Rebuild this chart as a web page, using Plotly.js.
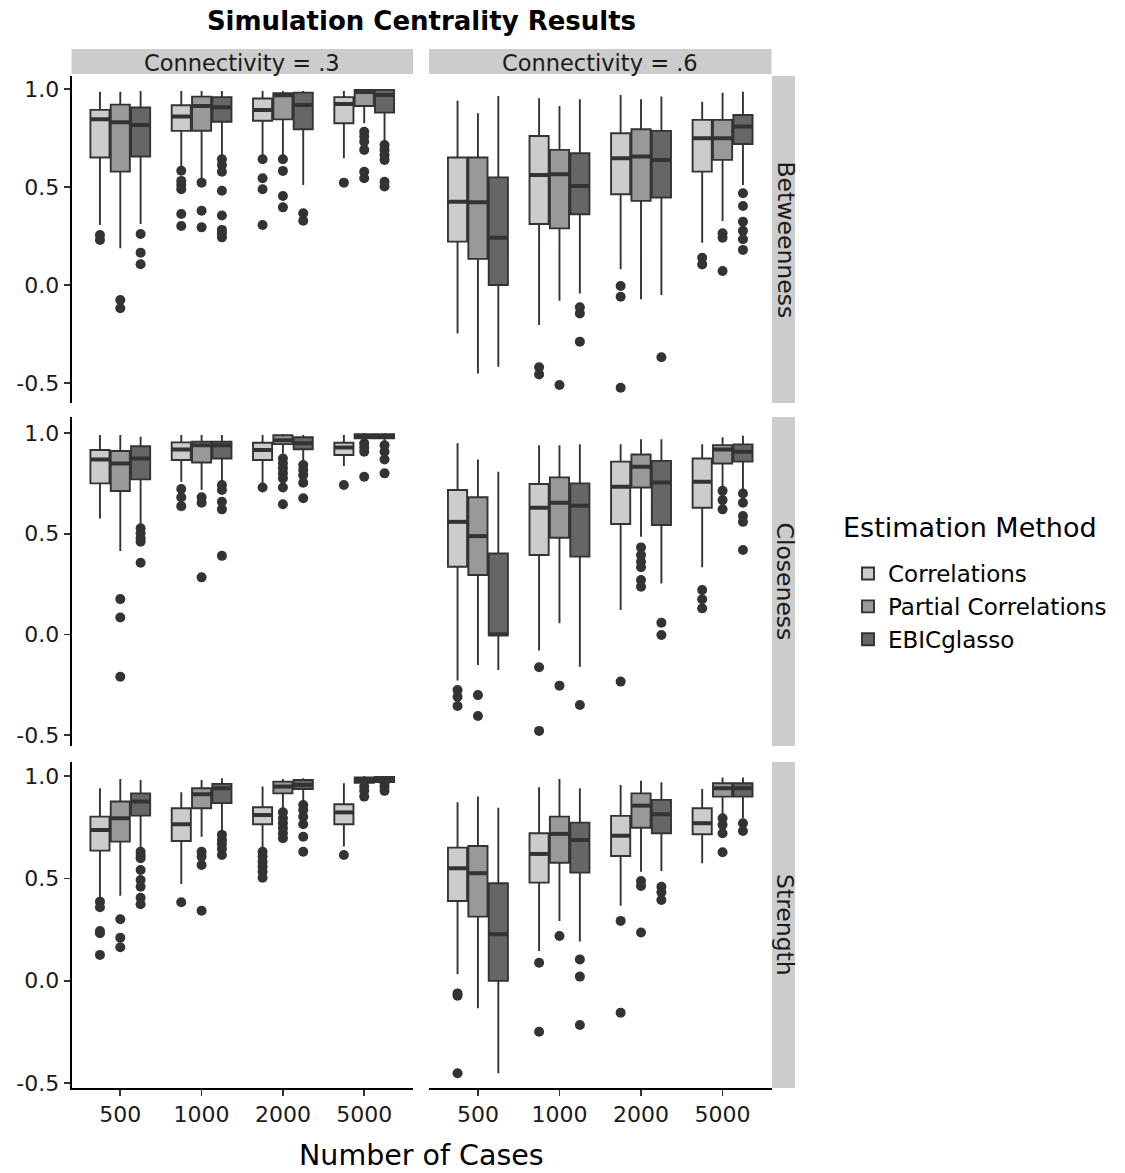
<!DOCTYPE html>
<html><head><meta charset="utf-8">
<script src="https://cdn.plot.ly/plotly-3.0.1.min.js"></script>
<style>html,body{margin:0;padding:0;background:#fff}</style>
</head><body><div id="chart" style="width:1125px;height:1173px"></div>
<script>
// ---------- DATA ----------
const nCases = ['500', '1000', '2000', '5000'];
const methods = ['Correlations', 'Partial Correlations', 'EBICglasso'];
const measures = ['Betweenness', 'Closeness', 'Strength'];
const connectivity = ['Connectivity = .3', 'Connectivity = .6'];
const yTickVals = [-0.5, 0, 0.5, 1];
const yTickText = ['-0.5', '0.0', '0.5', '1.0'];

// each stat array: rows = methods (Correlations, Partial, EBICglasso), cols = nCases
// Betweenness, connectivity .3
const betw3Upper = [[0.986, 0.99, 0.99, 0.99], [0.986, 0.99, 0.99, 1.0], [0.99, 0.99, 0.99, 1.0]];
const betw3Q3 = [[0.893, 0.917, 0.951, 0.958], [0.920, 0.961, 0.978, 0.995], [0.905, 0.958, 0.981, 0.995]];
const betw3Median = [[0.845, 0.859, 0.893, 0.923], [0.830, 0.913, 0.968, 0.985], [0.816, 0.907, 0.918, 0.969]];
const betw3Q1 = [[0.650, 0.786, 0.838, 0.825], [0.578, 0.787, 0.845, 0.913], [0.655, 0.833, 0.794, 0.879]];
const betw3Lower = [[0.306, 0.604, 0.658, 0.646], [0.187, 0.544, 0.655, 0.825], [0.311, 0.655, 0.510, 0.723]];
const betw3Outliers = [
  [[0.255, 0.230], [0.583, 0.531, 0.510, 0.488, 0.362, 0.301], [0.641, 0.544, 0.488, 0.306], [0.522]],
  [[-0.077, -0.119], [0.522, 0.379, 0.294], [0.641, 0.582, 0.454, 0.396], [0.782, 0.757, 0.731, 0.689, 0.578, 0.544]],
  [[0.260, 0.165, 0.106], [0.641, 0.612, 0.578, 0.481, 0.354, 0.281, 0.264, 0.243], [0.366, 0.328], [0.714, 0.689, 0.663, 0.638, 0.527, 0.502]]
];

// Betweenness, connectivity .6
const betw6Upper = [[0.940, 0.952, 0.969, 0.935], [0.876, 0.913, 0.947, 0.981], [0.964, 0.947, 0.961, 0.986]];
const betw6Q3 = [[0.650, 0.760, 0.774, 0.842], [0.650, 0.689, 0.794, 0.842], [0.549, 0.672, 0.786, 0.867]];
const betw6Median = [[0.425, 0.561, 0.646, 0.748], [0.422, 0.565, 0.655, 0.748], [0.241, 0.505, 0.638, 0.808]];
const betw6Q1 = [[0.221, 0.311, 0.463, 0.578], [0.133, 0.289, 0.429, 0.638], [0.0, 0.361, 0.446, 0.719]];
const betw6Lower = [[-0.247, -0.204, 0.080, 0.216], [-0.451, -0.080, -0.073, 0.327], [-0.417, -0.043, -0.051, 0.510]];
const betw6Outliers = [
  [[], [-0.420, -0.456], [-0.005, -0.060, -0.524], [0.139, 0.105]],
  [[], [-0.510], [], [0.264, 0.241, 0.071]],
  [[], [-0.114, -0.145, -0.289], [-0.369], [0.468, 0.403, 0.323, 0.276, 0.233, 0.179]]
];

// Closeness, connectivity .3
const clos3Upper = [[0.990, 0.990, 0.990, 0.990], [0.990, 0.990, 0.995, 1.0], [0.982, 0.990, 0.990, 1.0]];
const clos3Q3 = [[0.916, 0.954, 0.952, 0.952], [0.911, 0.957, 0.989, 0.995], [0.935, 0.957, 0.979, 0.995]];
const clos3Median = [[0.869, 0.919, 0.916, 0.929], [0.849, 0.940, 0.965, 0.985], [0.874, 0.940, 0.949, 0.985]];
const clos3Q1 = [[0.750, 0.866, 0.866, 0.891], [0.712, 0.854, 0.945, 0.974], [0.770, 0.874, 0.920, 0.974]];
const clos3Lower = [[0.576, 0.758, 0.750, 0.836], [0.414, 0.717, 0.899, 0.957], [0.543, 0.750, 0.866, 0.957]];
const clos3Outliers = [
  [[], [0.722, 0.681, 0.637], [0.730], [0.742]],
  [[0.175, 0.084, -0.211], [0.681, 0.654, 0.283], [0.874, 0.849, 0.825, 0.800, 0.775, 0.730, 0.646], [0.949, 0.929, 0.907, 0.783]],
  [[0.527, 0.502, 0.477, 0.460, 0.356], [0.742, 0.717, 0.659, 0.621, 0.390], [0.841, 0.816, 0.791, 0.753, 0.676], [0.940, 0.907, 0.869, 0.800]]
];

// Closeness, connectivity .6
const clos6Upper = [[0.949, 0.940, 0.945, 0.945], [0.869, 0.940, 0.970, 0.979], [0.808, 0.945, 0.970, 0.987]];
const clos6Q3 = [[0.717, 0.747, 0.858, 0.874], [0.681, 0.780, 0.894, 0.940], [0.402, 0.750, 0.862, 0.944]];
const clos6Median = [[0.559, 0.629, 0.733, 0.758], [0.488, 0.654, 0.833, 0.919], [0.0, 0.639, 0.755, 0.907]];
const clos6Q1 = [[0.336, 0.394, 0.548, 0.629], [0.295, 0.480, 0.730, 0.849], [-0.005, 0.386, 0.543, 0.858]];
const clos6Lower = [[-0.230, -0.081, 0.121, 0.333], [-0.153, 0.055, 0.485, 0.730], [-0.177, -0.161, 0.253, 0.717]];
const clos6Outliers = [
  [[-0.277, -0.310, -0.356], [-0.164, -0.480], [-0.235], [0.220, 0.174, 0.129]],
  [[-0.302, -0.406], [-0.255], [0.432, 0.394, 0.361, 0.333, 0.270, 0.236], [0.713, 0.667, 0.621]],
  [[], [-0.351], [0.058, -0.003], [0.700, 0.654, 0.588, 0.559, 0.419]]
];

// Strength, connectivity .3
const stre3Upper = [[0.940, 0.920, 0.948, 0.964], [0.985, 0.980, 0.985, 1.0], [0.980, 0.989, 0.989, 1.0]];
const stre3Q3 = [[0.801, 0.842, 0.847, 0.862], [0.875, 0.940, 0.972, 0.993], [0.915, 0.961, 0.980, 0.995]];
const stre3Median = [[0.736, 0.764, 0.809, 0.822], [0.793, 0.911, 0.948, 0.980], [0.875, 0.940, 0.956, 0.985]];
const stre3Q1 = [[0.635, 0.682, 0.764, 0.764], [0.679, 0.842, 0.915, 0.967], [0.806, 0.867, 0.936, 0.970]];
const stre3Lower = [[0.399, 0.472, 0.647, 0.655], [0.415, 0.703, 0.842, 0.956], [0.647, 0.725, 0.875, 0.960]];
const stre3Outliers = [
  [[0.386, 0.359, 0.243, 0.232, 0.126], [0.383], [0.630, 0.606, 0.581, 0.557, 0.532, 0.503], [0.614]],
  [[0.300, 0.210, 0.163], [0.630, 0.606, 0.565, 0.342], [0.822, 0.793, 0.769, 0.745, 0.720, 0.696], [0.948, 0.927, 0.899]],
  [[0.630, 0.614, 0.598, 0.541, 0.492, 0.459, 0.405, 0.373], [0.712, 0.687, 0.666, 0.643, 0.614], [0.858, 0.834, 0.801, 0.764, 0.703, 0.630], [0.964, 0.948, 0.927]]
];

// Strength, connectivity .6
const stre6Upper = [[0.871, 0.945, 0.956, 0.936], [0.899, 0.985, 0.976, 0.992], [0.845, 0.940, 0.969, 0.992]];
const stre6Q3 = [[0.650, 0.720, 0.805, 0.842], [0.658, 0.801, 0.915, 0.964], [0.476, 0.772, 0.883, 0.964]];
const stre6Median = [[0.549, 0.619, 0.708, 0.769], [0.525, 0.717, 0.855, 0.940], [0.227, 0.687, 0.813, 0.940]];
const stre6Q1 = [[0.389, 0.479, 0.609, 0.715], [0.313, 0.576, 0.747, 0.899], [-0.001, 0.528, 0.720, 0.899]];
const stre6Lower = [[0.031, 0.145, 0.366, 0.573], [-0.135, 0.292, 0.532, 0.813], [-0.452, 0.191, 0.536, 0.793]];
const stre6Outliers = [
  [[-0.062, -0.073, -0.452], [0.088, -0.249], [0.292, -0.156], []],
  [[], [0.218], [0.487, 0.463, 0.235], [0.793, 0.761, 0.720, 0.627]],
  [[], [0.104, 0.020, -0.216], [0.459, 0.432, 0.394], [0.769, 0.731]]
];

// ---------- STYLE / LAYOUT ----------
const FONT = 'DejaVu Sans, Liberation Sans, Arial, sans-serif';
const fills = ['#cccccc', '#999999', '#666666'];
const lineCol = '#333333';
const boxW = 0.25;
const W = 1125, H = 1173;
const colPx = [[71.5, 413], [429, 771.5]];
const rowPx = [[76, 403], [417, 746], [762, 1088]];
const rowRange = [[-0.602, 1.066], [-0.555, 1.08], [-0.524, 1.068]];

const panels = [
  {r: 0, c: 0, s: [betw3Upper, betw3Q3, betw3Median, betw3Q1, betw3Lower], out: betw3Outliers},
  {r: 0, c: 1, s: [betw6Upper, betw6Q3, betw6Median, betw6Q1, betw6Lower], out: betw6Outliers},
  {r: 1, c: 0, s: [clos3Upper, clos3Q3, clos3Median, clos3Q1, clos3Lower], out: clos3Outliers},
  {r: 1, c: 1, s: [clos6Upper, clos6Q3, clos6Median, clos6Q1, clos6Lower], out: clos6Outliers},
  {r: 2, c: 0, s: [stre3Upper, stre3Q3, stre3Median, stre3Q1, stre3Lower], out: stre3Outliers},
  {r: 2, c: 1, s: [stre6Upper, stre6Q3, stre6Median, stre6Q1, stre6Lower], out: stre6Outliers}
];

const traces = [];
const layout = {
  width: W, height: H,
  margin: {l: 0, r: 0, t: 0, b: 0, autoexpand: false},
  paper_bgcolor: '#ffffff', plot_bgcolor: '#ffffff',
  font: {family: FONT, color: '#1a1a1a'},
  showlegend: true,
  title: {text: '<b>Simulation Centrality Results</b>', font: {family: FONT, size: 26, color: '#000'},
          xref: 'paper', x: ((colPx[0][0] + colPx[1][1]) / 2) / W, xanchor: 'center',
          yref: 'container', y: 1 - 21 / H, yanchor: 'middle'},
  legend: {x: 848 / W, xanchor: 'left', y: 1 - 552 / H, yanchor: 'top',
           font: {family: FONT, size: 23, color: '#000'}, bgcolor: 'rgba(0,0,0,0)',
           traceorder: 'normal', itemwidth: 30, tracegroupgap: 0},
  shapes: [], annotations: []
};

panels.forEach(p => {
  const k = p.r * 2 + p.c + 1;
  const xa = 'x' + (k > 1 ? k : ''), ya = 'y' + (k > 1 ? k : '');
  const xKey = 'xaxis' + (k > 1 ? k : ''), yKey = 'yaxis' + (k > 1 ? k : '');
  const bottom = p.r === 2, left = p.c === 0;
  layout[xKey] = {
    domain: [colPx[p.c][0] / W, colPx[p.c][1] / W], anchor: ya,
    range: [0.4, nCases.length + 0.6], tickmode: 'array',
    tickvals: nCases.map((_, i) => i + 1), ticktext: nCases,
    showticklabels: bottom, ticks: bottom ? 'outside' : '', ticklen: 6, tickwidth: 1.6, tickcolor: '#333',
    showline: bottom, linecolor: '#000', linewidth: 1.8,
    showgrid: false, zeroline: false, fixedrange: true,
    tickfont: {family: FONT, size: 22, color: '#1a1a1a'}
  };
  layout[yKey] = {
    domain: [1 - rowPx[p.r][1] / H, 1 - rowPx[p.r][0] / H], anchor: xa,
    range: rowRange[p.r], tickmode: 'array', tickvals: yTickVals, ticktext: yTickText,
    showticklabels: left, ticks: left ? 'outside' : '', ticklen: 6, tickwidth: 1.6, tickcolor: '#333',
    showline: left, linecolor: '#000', linewidth: 1.8,
    showgrid: false, zeroline: false, fixedrange: true,
    tickfont: {family: FONT, size: 22, color: '#1a1a1a'}
  };
  methods.forEach((mName, m) => {
    const pos = nCases.map((_, i) => i + 1 + (m - 1) * boxW);
    // outliers
    const ox = [], oy = [];
    p.out[m].forEach((arr, i) => arr.forEach(v => { ox.push(pos[i]); oy.push(v); }));
    traces.push({type: 'scatter', mode: 'markers', x: ox, y: oy, xaxis: xa, yaxis: ya,
      marker: {size: 10, color: lineCol}, showlegend: false, hoverinfo: 'y'});
    traces.push({
      type: 'box', name: mName, legendgroup: mName, showlegend: k === 1,
      x: pos, upperfence: p.s[0][m], q3: p.s[1][m], median: p.s[2][m], q1: p.s[3][m], lowerfence: p.s[4][m],
      width: boxW * 0.94, whiskerwidth: 0, boxpoints: false,
      fillcolor: fills[m], line: {color: lineCol, width: 1.9},
      xaxis: xa, yaxis: ya
    });
    // thick median segments
    const mx = [], my = [];
    pos.forEach((px, i) => { mx.push(px - boxW * 0.47, px + boxW * 0.47, null); my.push(p.s[2][m][i], p.s[2][m][i], null); });
    traces.push({type: 'scatter', mode: 'lines', x: mx, y: my, xaxis: xa, yaxis: ya,
      line: {color: lineCol, width: 4}, showlegend: false, hoverinfo: 'skip'});
  });
});

// facet strips
connectivity.forEach((t, c) => {
  layout.shapes.push({type: 'rect', xref: 'paper', yref: 'paper', x0: colPx[c][0] / W, x1: colPx[c][1] / W,
    y0: 1 - 74 / H, y1: 1 - 49 / H, fillcolor: '#cccccc', line: {width: 0}, layer: 'below'});
  layout.annotations.push({text: t, xref: 'paper', yref: 'paper', x: (colPx[c][0] + colPx[c][1]) / 2 / W,
    y: 1 - 63 / H, xanchor: 'center', yanchor: 'middle', showarrow: false,
    font: {family: FONT, size: 22.5, color: '#1a1a1a'}});
});
measures.forEach((t, r) => {
  layout.shapes.push({type: 'rect', xref: 'paper', yref: 'paper', x0: 772 / W, x1: 795 / W,
    y0: 1 - rowPx[r][1] / H, y1: 1 - rowPx[r][0] / H, fillcolor: '#cccccc', line: {width: 0}, layer: 'below'});
  layout.annotations.push({text: t, xref: 'paper', yref: 'paper', x: 785 / W,
    y: 1 - (rowPx[r][0] + rowPx[r][1]) / 2 / H, xanchor: 'center', yanchor: 'middle', textangle: 90,
    showarrow: false, font: {family: FONT, size: 23.5, color: '#1a1a1a'}});
});
// legend title
layout.annotations.push({text: 'Estimation Method', xref: 'paper', yref: 'paper',
  x: 841 / W, y: 1 - 527 / H, xanchor: 'left', yanchor: 'middle', showarrow: false,
  font: {family: FONT, size: 27, color: '#000'}});
// x axis title
layout.annotations.push({text: 'Number of Cases', xref: 'paper', yref: 'paper',
  x: (colPx[0][0] + colPx[1][1]) / 2 / W, y: 1 - 1155 / H, xanchor: 'center', yanchor: 'middle',
  showarrow: false, font: {family: FONT, size: 28.5, color: '#000'}});

Plotly.newPlot('chart', traces, layout, {staticPlot: true, displayModeBar: false});
</script>
</body></html>
